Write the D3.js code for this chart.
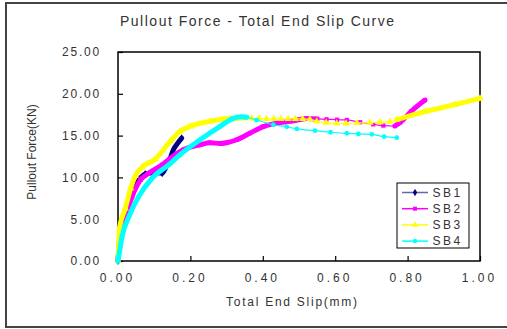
<!DOCTYPE html>
<html>
<head>
<meta charset="utf-8">
<script src="https://cdn.jsdelivr.net/npm/d3@7"></script>
<style>
  body { margin: 0; background: #fff; }
  svg text { font-family: "Liberation Sans", Arial, sans-serif; fill: #333; }
</style>
</head>
<body>
<svg id="chart" width="507" height="329"></svg>
<script>
// data: [slip (mm), force (kN)]
var sb1 = [[0,0],[0.004,2.5],[0.008,4.0],[0.02,6.0],[0.04,8.2],[0.06,9.8],[0.075,10.4],[0.1,10.6],
  [0.122,10.5],[0.131,11.1],[0.145,12.4],[0.153,13.3],[0.165,14.1],[0.176,14.7]];
var sb2 = [[0,0],[0.003,1.5],[0.01,3.5],[0.022,5.6],[0.039,7.7],[0.062,9.7],[0.085,10.5],[0.122,11.5],
  [0.145,12.3],[0.18,13.3],[0.227,13.9],[0.254,14.15],[0.282,14.05],[0.3,14.15],[0.328,14.5],
  [0.365,15.3],[0.401,16.07],[0.448,16.55],[0.475,16.7],[0.5,16.9],[0.521,17.05],[0.55,17.0],
  [0.576,16.95],[0.605,16.9],[0.632,16.87],[0.669,16.6],[0.705,16.35],[0.733,16.2],[0.765,16.15],
  [0.78,16.6],[0.81,17.9],[0.848,19.25]];
var sb3 = [[0,0],[0.005,4.1],[0.02,6.3],[0.035,8.7],[0.048,10.2],[0.066,11.2],[0.103,12.2],[0.144,14.3],
  [0.171,15.5],[0.199,16.1],[0.254,16.7],[0.309,17.05],[0.33,17.05],[0.35,17.05],[0.37,17.05],
  [0.39,17.05],[0.41,17.0],[0.43,17.0],[0.45,17.0],[0.47,17.0],[0.49,17.0],[0.51,17.0],[0.53,16.95],
  [0.549,16.7],[0.575,16.55],[0.604,16.47],[0.63,16.45],[0.66,16.5],[0.696,16.55],[0.724,16.6],
  [0.751,16.66],[0.77,16.9],[0.85,17.9],[0.93,18.7],[1.0,19.46]];
var sb4 = [[0,0],[0.002,0.5],[0.011,2.9],[0.03,5.3],[0.057,7.7],[0.094,9.9],[0.14,11.5],[0.171,12.7],
  [0.227,14.5],[0.282,16.1],[0.318,17.07],[0.34,17.25],[0.355,17.2],[0.383,16.85],[0.429,16.3],
  [0.466,16.05],[0.494,15.8],[0.544,15.6],[0.587,15.4],[0.632,15.27],[0.664,15.2],[0.701,15.15],
  [0.735,14.87],[0.77,14.75]];
var seriesNames = ["SB1", "SB2", "SB3", "SB4"];
var xTicks = [0, 0.2, 0.4, 0.6, 0.8, 1.0];
var yTicks = [0, 5, 10, 15, 20, 25];

// drawing style: colours, marker shapes, and the slip ranges where the
// original markers sit so close that they read as a thick band
var colors = ["#000080", "#ff00ff", "#ffff00", "#00ffff"];
var symbols = [d3.symbolDiamond, d3.symbolSquare, d3.symbolTriangle, d3.symbolCircle];
var thick = [[[0, 1]], [[0, 0.56], [0.765, 1]], [[0, 0.33], [0.76, 1]], [[0, 0.356]]];

var svg = d3.select("#chart");
var plotL = 118, plotR = 480, plotT = 52, plotB = 261;

var x = d3.scaleLinear().domain([0, 1]).range([plotL, plotR]);
var y = d3.scaleLinear().domain([0, 25]).range([plotB, plotT]);

// outer frame
svg.append("rect").attr("x", 6).attr("y", 3).attr("width", 520).attr("height", 324)
  .attr("fill", "none").attr("stroke", "#444").attr("stroke-width", 2);

// plot box
svg.append("rect").attr("x", plotL).attr("y", plotT).attr("width", plotR - plotL).attr("height", plotB - plotT)
  .attr("fill", "none").attr("stroke", "#000").attr("stroke-width", 1.5);

var xAxis = d3.axisBottom(x).tickValues(xTicks).tickSizeInner(-5).tickSizeOuter(0).tickPadding(12)
  .tickFormat(d3.format(".2f"));
var yAxis = d3.axisLeft(y).tickValues(yTicks).tickSizeInner(-5).tickSizeOuter(0).tickPadding(17)
  .tickFormat(d3.format(".2f"));

var gx = svg.append("g").attr("transform", "translate(0," + plotB + ")").call(xAxis);
gx.selectAll("text").attr("font-size", 12).style("letter-spacing", "3px").attr("dx", -1);
var gy = svg.append("g").attr("transform", "translate(" + plotL + ",0)").call(yAxis);
gy.selectAll("text").attr("font-size", 12).style("letter-spacing", "1.8px");
svg.selectAll(".domain").remove();
svg.selectAll(".tick line").attr("stroke", "#000").attr("stroke-width", 1.2);
svg.selectAll(".tick text").style("font-family", "'Liberation Sans', Arial, sans-serif").attr("fill", "#333");

// curves
var line = d3.line().curve(d3.curveMonotoneX)
  .x(function(d) { return x(d[0]); }).y(function(d) { return y(d[1]); });
var all = [sb1, sb2, sb3, sb4];
all.forEach(function(data, i) {
  var g = svg.append("g");
  g.append("path").attr("d", line(data)).attr("fill", "none")
    .attr("stroke", colors[i]).attr("stroke-width", 1.2);
  thick[i].forEach(function(r) {
    var part = data.filter(function(d) { return d[0] >= r[0] && d[0] <= r[1]; });
    g.append("path").attr("d", line(part)).attr("fill", "none")
      .attr("stroke", colors[i]).attr("stroke-width", 5)
      .attr("stroke-linecap", "round").attr("stroke-linejoin", "round");
  });
  g.selectAll("path.pt").data(data).enter().append("path").attr("class", "pt")
    .attr("d", d3.symbol().type(symbols[i]).size(i == 2 ? 22 : 18))
    .attr("transform", function(d) { return "translate(" + x(d[0]) + "," + y(d[1]) + ")"; })
    .attr("fill", colors[i]);
});

// legend
var lg = svg.append("g").attr("transform", "translate(397,183)");
lg.append("rect").attr("width", 72).attr("height", 65).attr("fill", "#fff")
  .attr("stroke", "#000").attr("stroke-width", 1);
seriesNames.forEach(function(name, i) {
  var cy = 9.5 + i * 16.2;
  lg.append("line").attr("x1", 5).attr("x2", 31).attr("y1", cy).attr("y2", cy)
    .attr("stroke", colors[i]).attr("stroke-width", 1.5).attr("opacity", i == 0 ? 0.6 : 1);
  lg.append("path").attr("d", d3.symbol().type(symbols[i]).size(16))
    .attr("transform", "translate(18," + cy + ")").attr("fill", colors[i]);
  lg.append("text").attr("x", 35.5).attr("y", cy + 4.3).attr("font-size", 12)
    .style("letter-spacing", "2.5px").text(name);
});

// titles
svg.append("text").attr("x", 120).attr("y", 26).attr("font-size", 14)
  .attr("textLength", 274).attr("lengthAdjust", "spacing")
  .text("Pullout Force - Total End Slip Curve");
svg.append("text").attr("x", 226).attr("y", 306).attr("font-size", 12)
  .attr("textLength", 131).attr("lengthAdjust", "spacing")
  .text("Total End Slip(mm)");
svg.append("text").attr("transform", "translate(36,152) rotate(-90)")
  .attr("text-anchor", "middle").attr("font-size", 12)
  .text("Pullout Force(KN)");
</script>
</body>
</html>
